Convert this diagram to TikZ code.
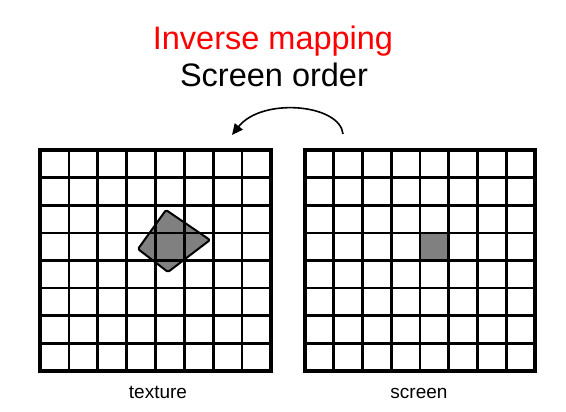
\documentclass[tikz,border=0pt]{standalone}
\usepackage{fontspec}
\setmainfont{Liberation Sans}
\usetikzlibrary{arrows.meta}
\definecolor{cellgray}{RGB}{128,128,128}
\tikzset{
  title/.style={anchor=base,inner sep=0pt,font=\fontsize{32.5}{36}\selectfont},
  label/.style={anchor=base,inner sep=0pt,font=\fontsize{19}{22}\selectfont},
  innerline/.style={line width=2.7pt,black},
  outerline/.style={line width=3.6pt,black},
  quad/.style={fill=cellgray,draw=black,line width=2pt,line join=round,rounded corners=1.5pt},
  maparrow/.style={line width=1.6pt,-{Triangle[length=11pt,width=10pt]}}
}
\begin{document}
\begin{tikzpicture}[x=1pt,y=-1pt]
\useasboundingbox[fill=white] (0,0) rectangle (566,412);
% titles
\node[title,text=red] (t1) at (273,50) {Inverse mapping};
\node[title] (t2) at (274,87) {Screen order};
% texture grid
\draw[quad] (166,210) -- (210,240) -- (168,272) -- (138,249) -- cycle;
\foreach \i in {1,...,7}{
  \draw[innerline] ({40+\i*231/8},150) -- ({40+\i*231/8},371);
  \draw[innerline] (40,{150+\i*221/8}) -- (271,{150+\i*221/8});
}
\draw[outerline] (40,150) rectangle (271,371);
% screen grid
\fill[cellgray] (305+4*230/8,150+3*221/8) rectangle (305+5*230/8,150+4*221/8);
\foreach \i in {1,...,7}{
  \draw[innerline] ({305+\i*230/8},150) -- ({305+\i*230/8},371);
  \draw[innerline] (305,{150+\i*221/8}) -- (535,{150+\i*221/8});
}
\draw[outerline] (305,150) rectangle (535,371);
% labels
\node[label] (lt) at (158,398) {texture};
\node[label] (ls) at (419,398) {screen};
% arrow
\coordinate (as) at (343,134);
\coordinate (ae) at (232,135);
\draw[maparrow] (as) .. controls (340,104) and (262,97) .. (ae);
\end{tikzpicture}
\end{document}
